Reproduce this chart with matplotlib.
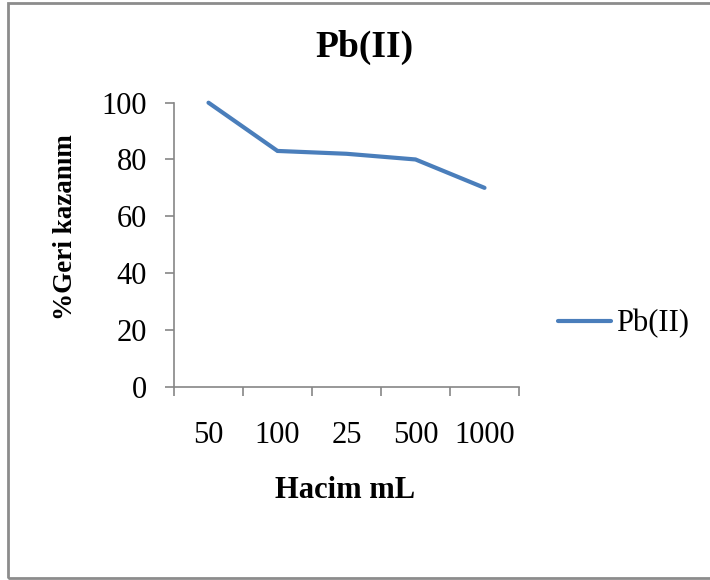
import matplotlib
matplotlib.use("Agg")
import matplotlib.pyplot as plt
from matplotlib.patches import Rectangle

categories = ["50", "100", "25", "500", "1000"]
values = [100, 83, 82, 80, 70]
series_name = "Pb(II)"
title = "Pb(II)"
xlabel = "Hacim mL"
ylabel = "%Geri kazanım"
yticks = [0, 20, 40, 60, 80, 100]

plt.rcParams['font.family'] = ['Liberation Serif', 'DejaVu Serif']

W, H = 710, 580
fig = plt.figure(figsize=(W / 100, H / 100), dpi=100)
ax = fig.add_axes([174 / W, (H - 386.5) / H, (519 - 174) / W, (386.5 - 102.7) / H])

line_color = "#4A7EBB"
axis_color = "#868686"
x = list(range(len(categories)))
ax.plot(x, values, color=line_color, linewidth=3.0, solid_capstyle='round',
        solid_joinstyle='miter', label=series_name, clip_on=False)

ax.set_xlim(-0.5, len(categories) - 0.5)
ax.set_ylim(0, 100)
ax.set_yticks(yticks)
ax.set_yticklabels([str(v) for v in yticks])

# category boundaries as major ticks (no labels), centers as minor ticks (labels)
ax.set_xticks([i - 0.5 for i in range(len(categories) + 1)])
ax.set_xticklabels([])
ax.set_xticks(x, minor=True)
ax.set_xticklabels(categories, minor=True)

for s in ["top", "right"]:
    ax.spines[s].set_visible(False)
for s in ["left", "bottom"]:
    ax.spines[s].set_color(axis_color)
    ax.spines[s].set_linewidth(1.2)

ax.tick_params(axis='x', which='major', direction='out', length=6.5, width=1.2, color=axis_color)
ax.tick_params(axis='x', which='minor', length=0, pad=25, labelsize=22)
ax.tick_params(axis='y', direction='out', length=6.5, width=1.2, color=axis_color,
               pad=13, labelsize=22)

fig.text(364 / W, (H - 47) / H, title, ha='center', va='center',
         fontsize=27, fontweight='bold')
fig.text(345 / W, (H - 490) / H, xlabel, ha='center', va='center',
         fontsize=22, fontweight='bold')
fig.text(66 / W, (H - 227) / H, ylabel, ha='center', va='center',
         fontsize=19.5, fontweight='bold', rotation=90)

fig.legend(loc='center left', bbox_to_anchor=(558 / W, (H - 324) / H),
           frameon=False, fontsize=22, handlelength=1.75, handletextpad=0.15,
           borderpad=0, borderaxespad=0)

fig.patches.append(Rectangle((7.5 / W, 2.5 / H), 1.2, (H - 5) / H,
                             transform=fig.transFigure, fill=False,
                             edgecolor="#8C8C8C", linewidth=2.0))

fig.savefig("out.png", dpi=100)
